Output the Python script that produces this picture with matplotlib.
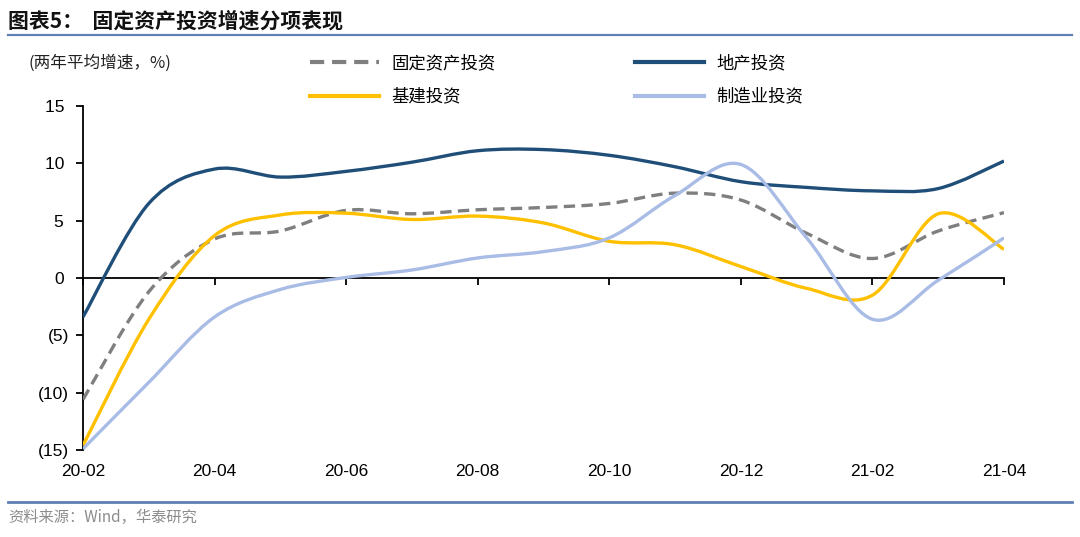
import numpy as np
import matplotlib
matplotlib.use("Agg")
import matplotlib.pyplot as plt
from matplotlib.path import Path
from matplotlib.patches import PathPatch
from matplotlib.lines import Line2D

CJK = ["Noto Sans CJK SC", "DejaVu Sans"]
LATIN = ["Liberation Sans", "DejaVu Sans"]

# two-year average growth, %, monthly 20-02 .. 21-04
months = ["20-02", "20-03", "20-04", "20-05", "20-06", "20-07", "20-08", "20-09",
          "20-10", "20-11", "20-12", "21-01", "21-02", "21-03", "21-04"]
fai = [-10.6, -1.2, 3.4, 4.1, 5.9, 5.6, 5.95, 6.15, 6.5, 7.4, 6.8, 3.9, 1.7, 4.1, 5.7]
real_estate = [-3.4, 6.5, 9.5, 8.8, 9.3, 10.1, 11.1, 11.2, 10.7, 9.7, 8.4, 7.9, 7.6, 7.8, 10.2]
infra = [-14.6, -3.6, 3.7, 5.5, 5.65, 5.1, 5.4, 4.8, 3.2, 2.9, 1.0, -0.9, -1.5, 5.6, 2.5]
manufacturing = [-14.9, -9.1, -3.4, -1.0, 0.05, 0.7, 1.75, 2.3, 3.5, 7.2, 9.9, 3.5, -3.6, -0.2, 3.5]

series = [
    ("固定资产投资", fai, "#7f7f7f", (0, (3.4, 1.9))),
    ("地产投资", real_estate, "#1f4e79", "-"),
    ("基建投资", infra, "#ffc000", "-"),
    ("制造业投资", manufacturing, "#a9bce6", "-"),
]


def smooth_path(xs, ys):
    """Excel-style smoothed line: Catmull-Rom segments as cubic Beziers."""
    p = np.column_stack([xs, ys]).astype(float)
    n = len(p)
    verts = [p[0]]
    codes = [Path.MOVETO]
    for i in range(n - 1):
        prev = p[max(i - 1, 0)]
        nxt = p[min(i + 2, n - 1)]
        c1 = p[i] + (p[i + 1] - prev) / 6
        c2 = p[i + 1] - (nxt - p[i]) / 6
        verts += [c1, c2, p[i + 1]]
        codes += [Path.CURVE4] * 3
    return Path(verts, codes)


fig = plt.figure(figsize=(10.8, 5.37), dpi=100)
ax = fig.add_axes([83 / 1080, 1 - 450 / 537, (1004 - 83) / 1080, (450 - 106) / 537])

x = np.arange(len(months))
handles = []
for name, vals, color, ls in series:
    patch = PathPatch(smooth_path(x, vals), fill=False, edgecolor=color, lw=2.4,
                      linestyle=ls, capstyle="butt", joinstyle="round", zorder=3)
    ax.add_patch(patch)
    handles.append(Line2D([], [], color=color, lw=3.0, linestyle=ls))

ax.set_xlim(0, len(months) - 1)
ax.set_ylim(-15, 15)

for side in ["top", "right"]:
    ax.spines[side].set_visible(False)
ax.spines["bottom"].set_position(("data", 0))
ax.spines["bottom"].set_linewidth(1.3)
ax.spines["left"].set_linewidth(1.3)
ax.spines["bottom"].set_zorder(2)

ax.set_xticks(x[::2])
ax.set_xticklabels(months[::2], family=LATIN, fontsize=12.5)
ax.tick_params(axis="x", direction="out", length=5, width=1.3, pad=129)

yt = [15, 10, 5, 0, -5, -10, -15]
ax.set_yticks(yt)
ax.set_yticklabels([f"{v} " if v >= 0 else f"({-v})" for v in yt], family=LATIN, fontsize=12.5)
ax.tick_params(axis="y", direction="out", length=5, width=1.3, pad=5)

# legend: 2x2 grid, filled column-wise
order = [0, 2, 1, 3]
fig.legend([handles[i] for i in order], [series[i][0] for i in order],
           loc="upper left", bbox_to_anchor=(310 / 1080, 1 - 54 / 537), ncol=2,
           frameon=False, prop={"family": CJK, "size": 12.5}, handlelength=4.0,
           handletextpad=0.7, columnspacing=8.0, labelspacing=0.9,
           borderpad=0, borderaxespad=0)

fig.text(28 / 1080, 1 - 63 / 537, "(两年平均增速，%)", family=CJK, fontsize=12,
         va="center", ha="left", color="#222222")

fig.text(8 / 1080, 1 - 21 / 537, "图表5：  固定资产投资增速分项表现", family=CJK,
         fontsize=15, fontweight="bold", va="center", ha="left", color="#111111")

rule_color = "#5f80b3"
fig.add_artist(Line2D([8 / 1080, 1072 / 1080], [1 - 35 / 537] * 2, color=rule_color, lw=1.6))
fig.add_artist(Line2D([8 / 1080, 1072 / 1080], [1 - 502 / 537] * 2, color=rule_color, lw=2.0))

fig.text(8 / 1080, 1 - 517 / 537, "资料来源：Wind，华泰研究", family=CJK, fontsize=11,
         va="center", ha="left", color="#8c8c8c")

fig.savefig("out.png", dpi=100)
